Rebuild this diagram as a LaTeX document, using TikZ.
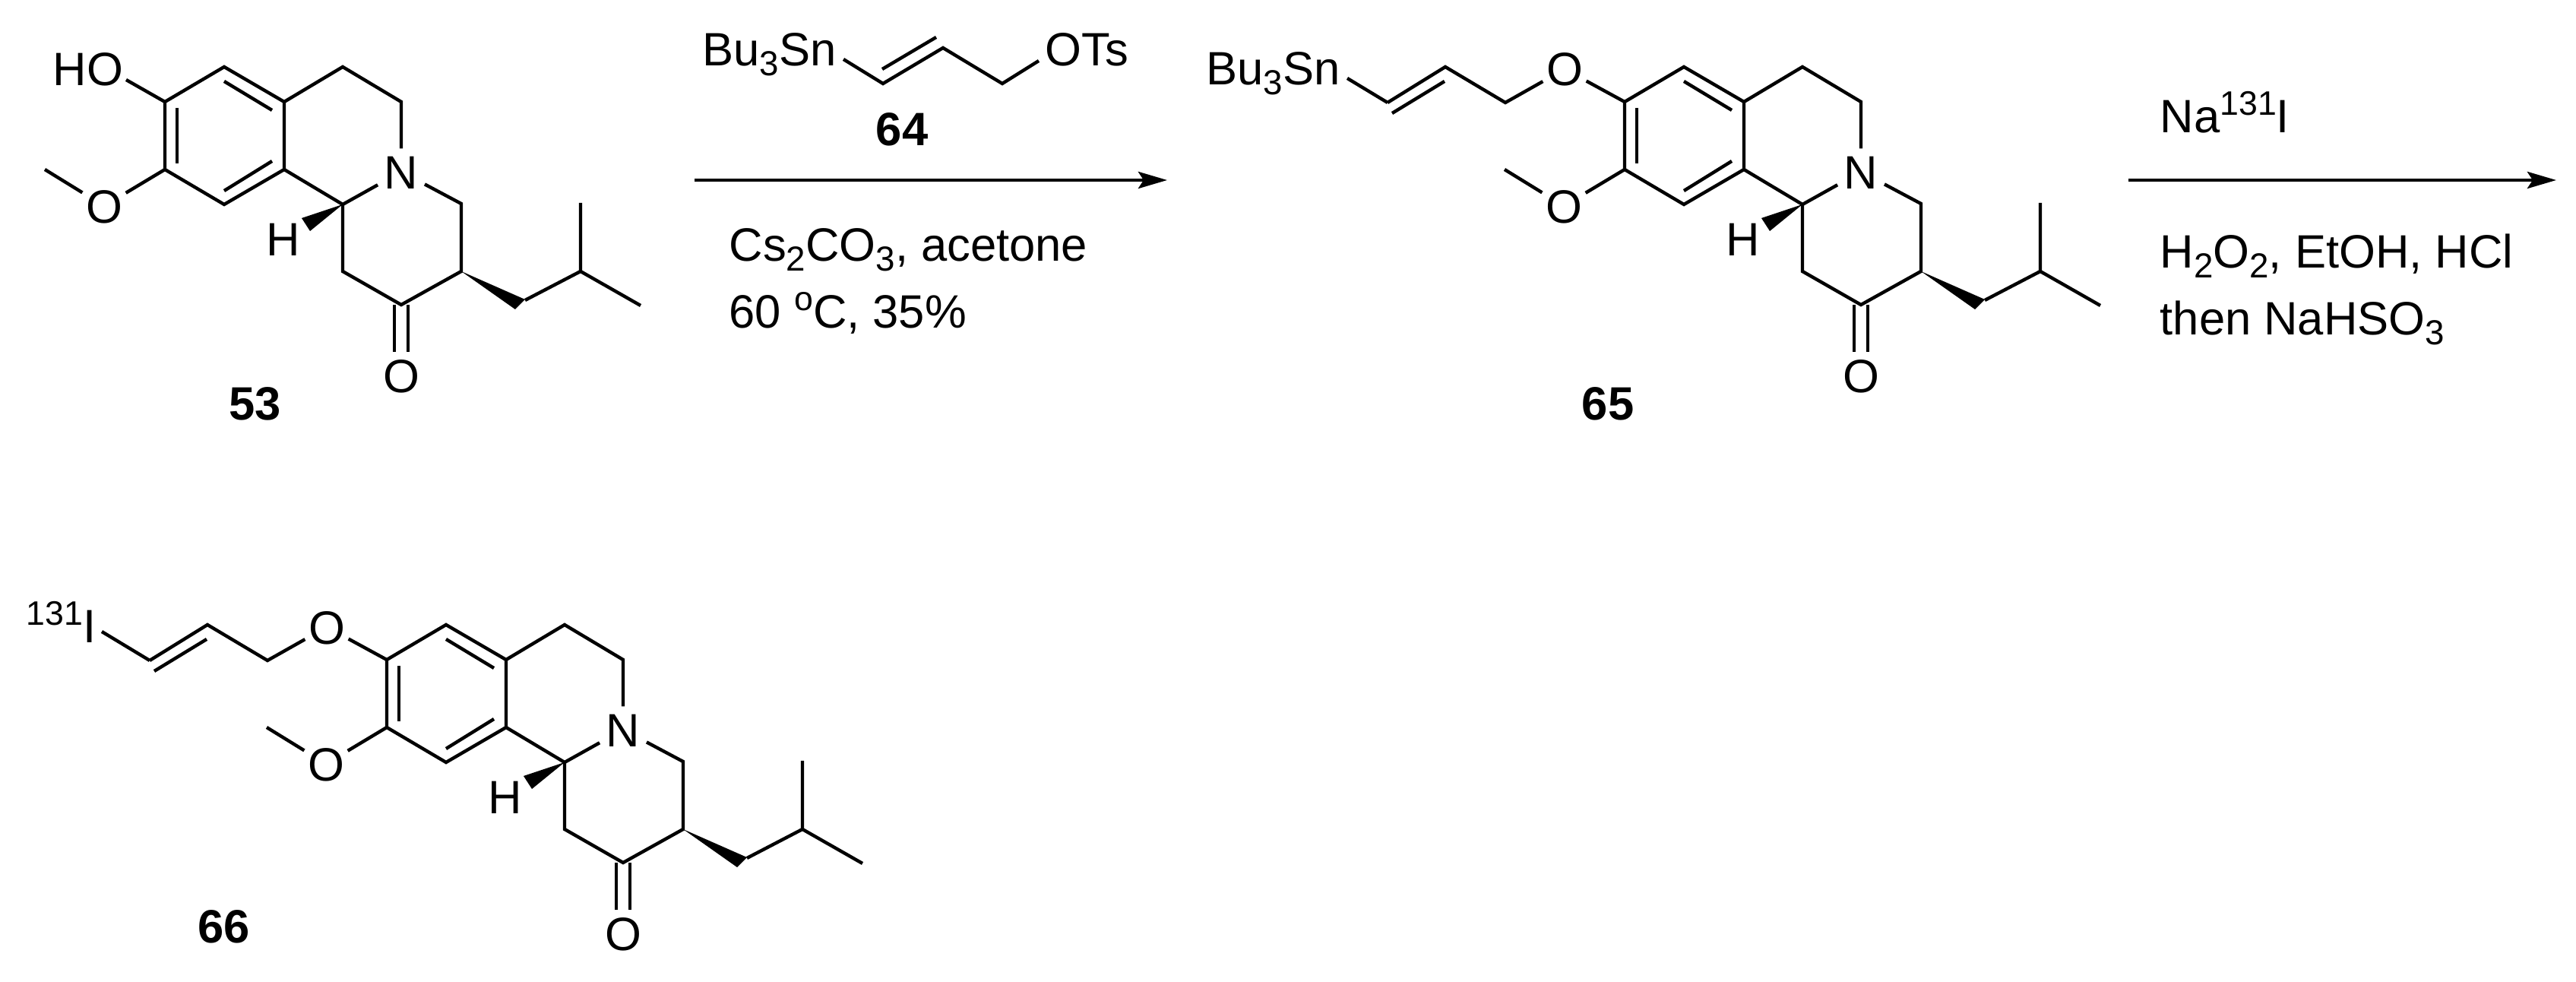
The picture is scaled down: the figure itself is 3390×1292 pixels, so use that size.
\documentclass[tikz,border=0pt]{standalone}
\usepackage{fontspec}
\setmainfont{Liberation Sans}
\usetikzlibrary{arrows.meta}

\newcommand{\chemsub}[1]{\raisebox{-0.2em}{\fontsize{13}{13}\selectfont #1}}
\newcommand{\chemsup}[1]{\raisebox{0.38em}{\fontsize{12.7}{12.7}\selectfont #1}}

\tikzset{
    bond/.style={line width=0.044cm},
    atom/.style={inner sep=0.08cm, text height=0.44cm, text depth=0pt},
    label/.style={inner sep=0pt, anchor=base},
    reagent/.style={inner sep=0pt, anchor=base west},
    rxn/.style={line width=0.044cm, -{Stealth[length=0.38cm, width=0.22cm, inset=0.07cm]}},
    % ring system with ketone and isobutyl chain
    core/.pic={
        \coordinate (a1) at (295,88);
        \coordinate (a2) at (374,134);
        \coordinate (a3) at (374,223);
        \coordinate (a4) at (295,269);
        \coordinate (a5) at (217,223);
        \coordinate (a6) at (217,134);
        \coordinate (c1) at (451,88);
        \coordinate (c2) at (528,134);
        \coordinate (c3) at (451,269);
        \coordinate (c4) at (607,268);
        \coordinate (c5) at (607,357);
        \coordinate (c6) at (528,401);
        \coordinate (c7) at (451,357);
        \coordinate (c8) at (691,395);
        \coordinate (c9) at (764,357);
        \coordinate (c10) at (764,267);
        \coordinate (c11) at (843,402);
        \node[atom] (N) at (528,226) {N};
        \node[atom] (H) at (373,314) {H};
        \node[atom, inner xsep=0.04cm] (OMe) at (137,271) {O};
        \node[atom] (OK) at (528,494) {O};
        \coordinate (me) at (59,223);
        % aromatic ring
        \draw[bond] (a1) -- (a2) -- (a3) -- (a4) -- (a5) -- (a6) -- cycle;
        \draw[bond] (295,107) -- (358,145);
        \draw[bond] (358,212) -- (295,251);
        \draw[bond] (233,142) -- (233,215);
        % saturated rings
        \draw[bond] (a2) -- (c1) -- (c2) -- (N);
        \draw[bond] (a3) -- (c3) -- (N);
        \draw[bond] (N) -- (c4) -- (c5) -- (c6) -- (c7) -- (c3);
        % ketone
        \draw[bond] (519,401) -- (519,463);
        \draw[bond] (537,401) -- (537,463);
        % methoxy
        \draw[bond] (a5) -- (OMe) -- (me);
        % wedges and isobutyl
        \fill (c3) -- (397,287) -- (408,304) -- cycle;
        \fill (c5) -- (691,394) -- (678,407) -- cycle;
        \draw[bond] (c8) -- (c9) -- (c10);
        \draw[bond] (c9) -- (c11);
    },
    % allyl ether on the ring oxygen
    allyl/.pic={
        \coordinate (r6) at (217,134);
        \coordinate (v1) at (-95,135);
        \coordinate (v2) at (-19,88);
        \coordinate (v3) at (60,135);
        \node[atom, inner xsep=0.04cm] (O) at (138,91) {O};
        \draw[bond] (r6) -- (O) -- (v3) -- (v2) -- (v1);
        \draw[bond] (-89,149) -- (-20,107);
    }
}

\begin{document}
\begin{tikzpicture}[x=0.01cm, y=-0.01cm, font=\fontsize{17.5}{21}\selectfont]
    \useasboundingbox (0,0) rectangle (3390,1292);

    % compound 53
    \pic (m53) at (0,0) {core};
    \node[atom, inner sep=0pt] (HO) at (116,91) {HO};
    \coordinate (oh) at (166,105);
    \draw[bond] (m53a6) -- (oh);
    \node[label, font=\fontsize{17.5}{21}\bfseries\selectfont] (n53) at (336,553) {53};

    % reagent 64
    \node[reagent] (sn64) at (924,87) {Bu\chemsub{3}Sn};
    \node[reagent] (ots) at (1375,87) {OTs};
    \coordinate (s1) at (1110,78);
    \coordinate (s2) at (1162,110);
    \coordinate (s3) at (1241,63);
    \coordinate (s4) at (1319,110);
    \coordinate (s5) at (1367,80);
    \draw[bond] (s1) -- (s2) -- (s3) -- (s4) -- (s5);
    \draw[bond] (1161,91) -- (1232,49);
    \node[label, font=\fontsize{17.5}{21}\bfseries\selectfont] (n64) at (1187,192) {64};

    % first arrow
    \coordinate (r1a) at (914,237);
    \coordinate (r1b) at (1536,237);
    \draw[rxn] (r1a) -- (r1b);
    \node[reagent] (cond1) at (959,344) {Cs\chemsub{2}CO\chemsub{3}, acetone};
    \node[reagent] (cond2) at (959,432) {60 \chemsup{o}C, 35\%};

    % compound 65
    \pic (m65) at (1921,0) {core};
    \pic (al65) at (1921,0) {allyl};
    \node[reagent] (sn65) at (1587,112) {Bu\chemsub{3}Sn};
    \coordinate (s65) at (1773,103);
    \draw[bond] (s65) -- (al65v1);
    \node[label, font=\fontsize{17.5}{21}\bfseries\selectfont] (n65) at (2116,553) {65};

    % second arrow
    \coordinate (r2a) at (2801,237);
    \coordinate (r2b) at (3364,237);
    \draw[rxn] (r2a) -- (r2b);
    \node[reagent] (cond3) at (2842,175) {Na\chemsup{131}I};
    \node[reagent] (cond4) at (2842,353) {H\chemsub{2}O\chemsub{2}, EtOH, HCl};
    \node[reagent] (cond5) at (2842,441) {then NaHSO\chemsub{3}};

    % compound 66
    \pic (m66) at (292,734) {core};
    \pic (al66) at (292,734) {allyl};
    \node[reagent] (iodo) at (34,846) {\chemsup{131}I};
    \coordinate (s66) at (134,831);
    \draw[bond] (s66) -- (al66v1);
    \node[label, font=\fontsize{17.5}{21}\bfseries\selectfont] (n66) at (295,1241) {66};
\end{tikzpicture}
\end{document}
